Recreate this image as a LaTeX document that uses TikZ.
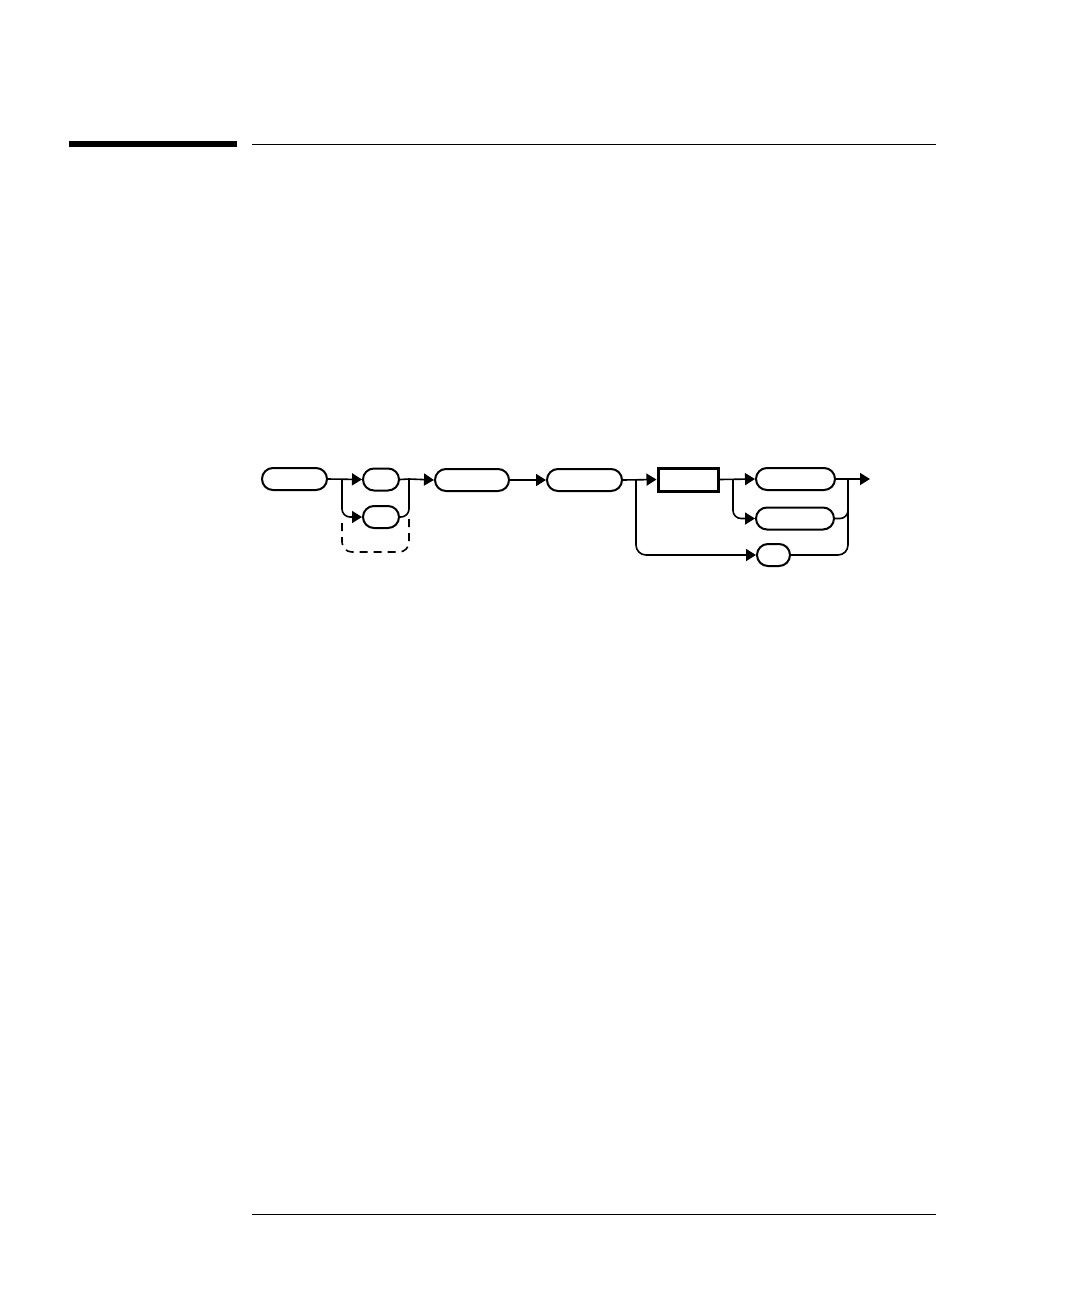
\documentclass[tikz,border=0pt]{standalone}
\usetikzlibrary{arrows.meta}

\tikzset{
  pill/.style={draw, line width=1pt, rounded corners=5.5pt, minimum height=11pt, inner sep=0pt},
  boxed/.style={draw, line width=1.5pt, minimum height=11.5pt, inner sep=0pt},
  flow/.style={line width=0.8pt},
  tip/.style={-{Triangle[length=5pt,width=6pt]}},
  rule/.style={line width=0.75pt},
}

\begin{document}
\begin{tikzpicture}[x=0.5pt, y=-0.5pt]
  \useasboundingbox (0,0) rectangle (1080,1296);
  % header and footer rules
  \fill (69,141) rectangle (237,147);
  \draw[rule] (252,144.5) -- (936,144.5);
  \draw[rule] (252,1214.5) -- (936,1214.5);

  % syntax nodes
  \node[pill, minimum width=32.5pt] (cmd)   at (294.5,479) {};
  \node[pill, minimum width=18pt]   (optA)  at (381,479.5) {};
  \node[pill, minimum width=18pt]   (optB)  at (381,517) {};
  \node[pill, minimum width=37pt]   (argA)  at (472,480) {};
  \node[pill, minimum width=37.5pt] (argB)  at (584.5,480) {};
  \node[boxed, minimum width=30pt]  (param) at (688,479.5) {};
  \node[pill, minimum width=39.5pt] (endA)  at (795.5,479) {};
  \node[pill, minimum width=39pt]   (endB)  at (795,518.5) {};
  \node[pill, minimum width=16.5pt] (query) at (773.5,555) {};

  % branch and merge points
  \coordinate (split1) at (342,479);
  \coordinate (join1)  at (409,479);
  \coordinate (loopR)  at (409,519);
  \coordinate (loopB)  at (342,552);
  \coordinate (loopL)  at (342,519);
  \coordinate (split2) at (636,480);
  \coordinate (split3) at (733,479);
  \coordinate (join2)  at (848,479);
  \coordinate (out)    at (870,479);

  % main path
  \draw[flow,tip] (cmd.east) -- (optA.west);
  \draw[flow,tip,rounded corners=4pt] (split1) |- (optB.west);
  \draw[flow,rounded corners=4pt] (optB.east) -| (join1);
  \draw[flow,tip] (optA.east) -- (join1) -- (argA.west);
  \draw[flow,dashed,dash pattern=on 4pt off 3pt,rounded corners=5pt] (loopR) |- (loopB) -- (loopL);
  \draw[flow,tip] (argA.east) -- (argB.west);
  \draw[flow,tip] (argB.east) -- (param.west);
  \draw[flow,tip,rounded corners=5pt] (split2) |- (query.west);
  \draw[flow,tip] (param.east) -- (endA.west);
  \draw[flow,tip,rounded corners=4pt] (split3) |- (endB.west);
  \draw[flow,tip] (endA.east) -- (out);
  \draw[flow,rounded corners=4pt] (endB.east) -| (join2);
  \draw[flow,rounded corners=5pt] (query.east) -| (join2);
\end{tikzpicture}
\end{document}
